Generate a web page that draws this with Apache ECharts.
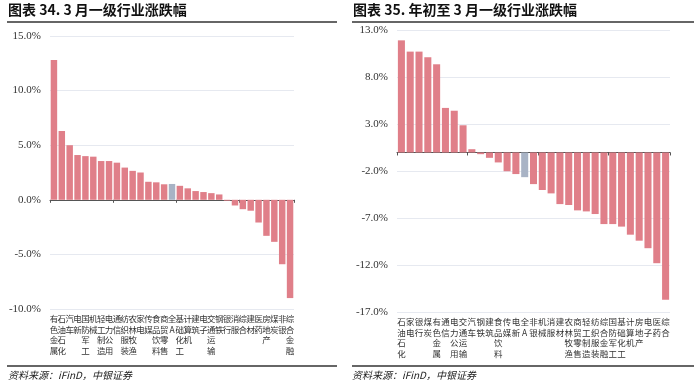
<!DOCTYPE html>
<html><head><meta charset="utf-8">
<script src="https://cdn.jsdelivr.net/npm/echarts@6/dist/echarts.min.js"></script>
<style>html,body{margin:0;padding:0;background:#fff}#c{width:700px;height:386px}</style>
</head><body><div id="c"></div>
<script>
const leftCats = ['有色金属','石油石化','汽车','电新','国防军工','机械','轻工制造','电力公用','通信','纺织服装','农林牧渔','家电','传媒','食品饮料','商贸零售','全A','基础化工','计算机','建筑','电子','交通运输','钢铁','银行','消服','综合','建材','医药','房地产','煤炭','非银','综合金融'];
const leftVals = [12.8, 6.3, 5.0, 4.1, 4.0, 3.95, 3.55, 3.55, 3.4, 2.95, 2.65, 2.5, 1.65, 1.6, 1.42, 1.45, 1.28, 1.05, 0.8, 0.71, 0.61, 0.49, -0.08, -0.52, -0.86, -1.0, -2.08, -3.3, -3.85, -5.9, -9.0];
const rightCats = ['石油石化','家电','银行','煤炭','有色金属','通信','电力公用','交通运输','汽车','钢铁','建筑','食品饮料','传媒','电新','全A','非银','机械','消服','建材','农林牧渔','商贸零售','轻工制造','纺织服装','综合金融','国防军工','基础化工','计算机','房地产','电子','医药','综合'];
const rightVals = [11.95, 10.75, 10.75, 10.15, 9.4, 4.75, 4.45, 2.9, 0.35, -0.18, -0.57, -1.06, -2.0, -2.3, -2.63, -3.37, -4.0, -4.36, -5.5, -5.6, -6.17, -6.28, -6.56, -7.63, -7.63, -7.9, -8.76, -9.4, -10.2, -11.8, -15.7];
const leftTicks = {min: -10, max: 15, interval: 5};
const rightTicks = {min: -17, max: 13, interval: 5};

const RED = '#e07f89', GRAY = '#a8b3c5';
const chart = echarts.init(document.getElementById('c'), null, {renderer: 'canvas'});
function barData(cats, vals) {
  return vals.map((v, i) => cats[i] === '全A' ? {value: v, itemStyle: {color: GRAY}} : v);
}
const catFont = {fontFamily: 'Noto Sans CJK SC', fontSize: 8.5, lineHeight: 10.5, color: '#333'};
function xAxes(gi, cats) {
  return [
    {gridIndex: gi, type: 'category', data: cats, position: 'bottom',
     axisLine: {onZero: true, lineStyle: {color: '#555', width: 1}},
     axisTick: {show: true, length: 3, lineStyle: {color: '#555'}},
     axisLabel: {show: false}},
    {gridIndex: gi, type: 'category', data: cats, position: 'bottom',
     axisLine: {show: false, onZero: false}, axisTick: {show: false},
     axisLabel: Object.assign({interval: 0, margin: 5, formatter: s => s.split('').join('\n')}, catFont)}
  ];
}
function yAxis(gi, t) {
  return {gridIndex: gi, type: 'value', min: t.min, max: t.max, interval: t.interval,
    axisLine: {show: false}, axisTick: {show: false},
    splitLine: {lineStyle: {color: '#e6e9f0', width: 1}},
    axisLabel: {margin: 9, fontFamily: 'Liberation Serif', fontSize: 11, color: '#333',
      formatter: v => v.toFixed(1) + '%'}};
}
chart.setOption({
  animation: false,
  grid: [
    {left: 50, right: 406, top: 36, bottom: 77},
    {left: 397, right: 30, top: 30.5, bottom: 74}
  ],
  xAxis: [...xAxes(0, leftCats), ...xAxes(1, rightCats)],
  yAxis: [yAxis(0, leftTicks), yAxis(1, rightTicks)],
  series: [
    {type: 'bar', xAxisIndex: 0, yAxisIndex: 0, data: barData(leftCats, leftVals), barCategoryGap: '18%', itemStyle: {color: RED}},
    {type: 'bar', xAxisIndex: 2, yAxisIndex: 1, data: barData(rightCats, rightVals), barCategoryGap: '20%', itemStyle: {color: RED}}
  ],
  graphic: [
    {type: 'text', left: 8, top: 3, style: {text: '图表 34. 3 月一级行业涨跌幅', font: 'bold 14px "Noto Sans CJK SC"', fill: '#111'}},
    {type: 'text', left: 353, top: 3, style: {text: '图表 35. 年初至 3 月一级行业涨跌幅', font: 'bold 14px "Noto Sans CJK SC"', fill: '#111'}},
    {type: 'line', shape: {x1: 7, y1: 22, x2: 337, y2: 22}, style: {stroke: '#666', lineWidth: 2}},
    {type: 'line', shape: {x1: 352, y1: 22, x2: 694, y2: 22}, style: {stroke: '#666', lineWidth: 2}},
    {type: 'line', shape: {x1: 7, y1: 366, x2: 337, y2: 366}, style: {stroke: '#666', lineWidth: 2}},
    {type: 'line', shape: {x1: 352, y1: 366, x2: 694, y2: 366}, style: {stroke: '#666', lineWidth: 2}},
    {type: 'text', left: 8, top: 370, style: {text: '资料来源：iFinD，中银证券', font: 'italic 10px "Noto Sans CJK SC"', fill: '#222'}},
    {type: 'text', left: 352, top: 370, style: {text: '资料来源：iFinD，中银证券', font: 'italic 10px "Noto Sans CJK SC"', fill: '#222'}}
  ]
});
</script></body></html>
